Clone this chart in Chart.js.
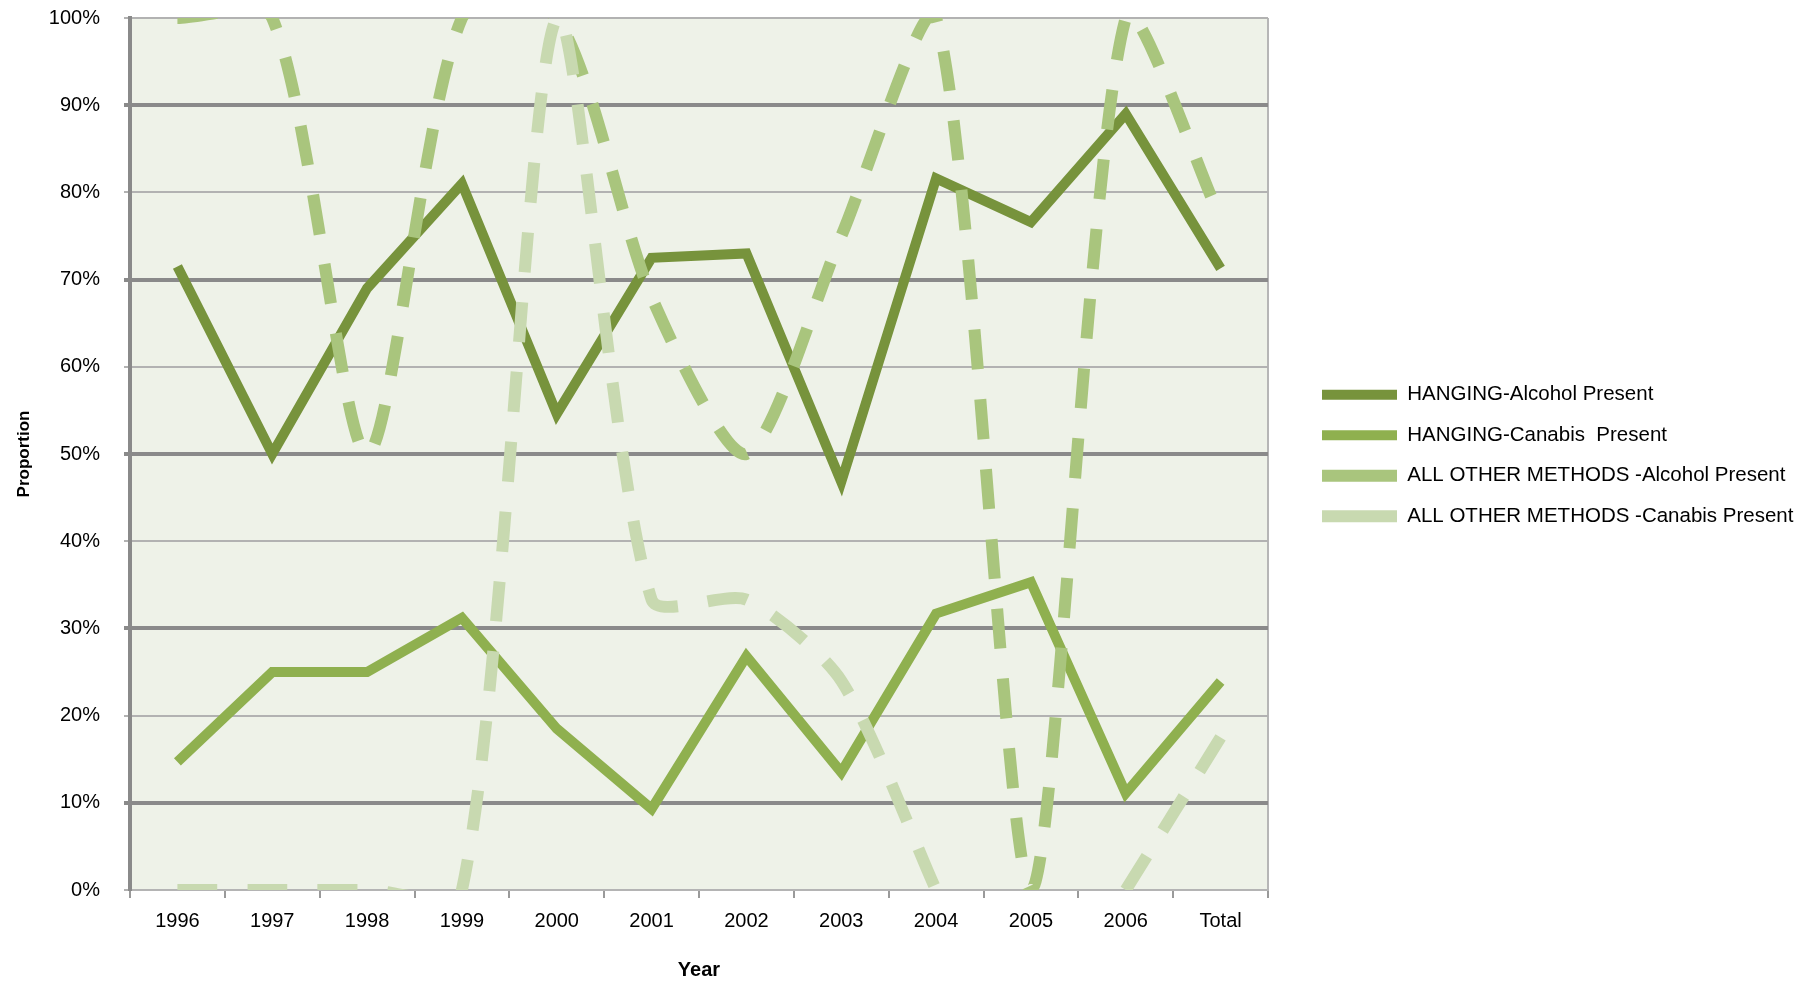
<!DOCTYPE html>
<html>
<head>
<meta charset="utf-8">
<title>Proportion by year</title>
<script src="https://cdn.jsdelivr.net/npm/chart.js@4.4.1/dist/chart.umd.min.js"></script>
<style>
  html, body { margin: 0; padding: 0; background: #ffffff; }
  #chart { display: block; }
</style>
</head>
<body>
<canvas id="chart" width="1800" height="983"></canvas>
<script>
const years = ["1996", "1997", "1998", "1999", "2000", "2001", "2002", "2003", "2004", "2005", "2006", "Total"];

const hangingAlcohol = [71.5, 50, 69, 81, 54.6, 72.5, 73, 46.8, 81.6, 76.6, 89, 71.3];
const hangingCanabis = [14.7, 25, 25, 31.2, 18.5, 9.3, 26.8, 13.5, 31.7, 35.3, 11.1, 23.9];
const othersAlcohol = [100, 100, 50, 100, 100, 68, 50, 75, 100, 0, 100, 77];
const othersCanabis = [0, 0, 0, 0, 100, 33.3, 33.3, 24, 0, null, 0, 17.5];

const FONT = "'Liberation Sans', Arial, sans-serif";

// plot area fill + thin right frame
const plotBackground = {
  id: "plotBackground",
  beforeDraw(chart) {
    const { ctx, chartArea: a } = chart;
    ctx.save();
    ctx.fillStyle = "#eef2e8";
    ctx.fillRect(a.left, a.top, a.right - a.left, a.bottom - a.top);
    ctx.strokeStyle = "#b6b6b6";
    ctx.lineWidth = 2;
    ctx.beginPath();
    ctx.moveTo(a.right, a.top);
    ctx.lineTo(a.right, a.bottom);
    ctx.stroke();
    ctx.restore();
  },
};

// legend on the right with a fixed width, nudged right and up
const legendPlacement = {
  id: "legendPlacement",
  beforeUpdate(chart) {
    const legend = chart.legend;
    if (!legend || legend._fixedFit) return;
    const fit = legend.fit;
    legend.fit = function () {
      fit.call(this);
      this.width = 532;
    };
    legend._fixedFit = true;
  },
  afterLayout(chart) {
    const legend = chart.legend;
    if (!legend) return;
    legend.left += 34;
    legend.top -= 45;
    legend.bottom -= 45;
  },
};

const buildDataset = (label, data, color, width, dashed, order) => ({
  label,
  data,
  borderColor: color,
  backgroundColor: color,
  borderWidth: width,
  borderDash: dashed ? [40, 30] : [],
  borderJoinStyle: "miter",
  borderCapStyle: "butt",
  tension: dashed ? 0.25 : 0,
  fill: false,
  pointRadius: 0,
  pointHoverRadius: 0,
  spanGaps: false,
  clip: 0,
  order,
});

new Chart(document.getElementById("chart"), {
  type: "line",
  data: {
    labels: years,
    datasets: [
      buildDataset("HANGING-Alcohol Present", hangingAlcohol, "#77933c", 10, false, 4),
      buildDataset("HANGING-Canabis  Present", hangingCanabis, "#8fb04f", 10, false, 3),
      buildDataset("ALL OTHER METHODS -Alcohol Present", othersAlcohol, "#a9c57d", 12, true, 2),
      buildDataset("ALL OTHER METHODS -Canabis Present", othersCanabis, "#c8d9b0", 12, true, 1),
    ],
  },
  options: {
    responsive: false,
    animation: false,
    layout: {
      padding: { left: 10, top: 18, right: 0, bottom: 0 },
    },
    elements: {
      line: { capBezierPoints: false },
    },
    plugins: {
      tooltip: { enabled: false },
      legend: {
        position: "right",
        align: "center",
        labels: {
          usePointStyle: true,
          pointStyle: "line",
          pointStyleWidth: 75,
          boxHeight: 10,
          padding: 20,
          color: "#000000",
          font: { family: FONT, size: 20.5 },
          sort: (a, b) => a.datasetIndex - b.datasetIndex,
        },
      },
    },
    scales: {
      x: {
        type: "category",
        offset: true,
        grid: {
          display: true,
          offset: true,
          drawOnChartArea: false,
          drawTicks: true,
          tickLength: 8,
          color: "#9a9a9a",
          lineWidth: 2,
        },
        border: { display: true, color: "#b4b4b4", width: 2 },
        ticks: {
          color: "#000000",
          font: { family: FONT, size: 20 },
          padding: 11,
          maxRotation: 0,
          autoSkip: false,
        },
        title: {
          display: true,
          text: "Year",
          color: "#000000",
          font: { family: FONT, size: 20, weight: "bold" },
          padding: { top: 0, bottom: 1 },
        },
        afterFit(scale) {
          scale.height = 93;
        },
      },
      y: {
        min: 0,
        max: 100,
        ticks: {
          stepSize: 10,
          callback: (value) => value + "%",
          color: "#000000",
          font: { family: FONT, size: 20 },
          padding: 24,
        },
        grid: {
          color: (ctx) => (ctx.tick && ctx.tick.value % 20 === 10 ? "#8a8a8a" : "#b2b2b2"),
          lineWidth: (ctx) => (ctx.tick && ctx.tick.value % 20 === 10 ? 4 : 2),
          tickLength: 6,
        },
        border: { display: true, color: "#8a8a8a", width: 4 },
        title: {
          display: true,
          text: "Proportion",
          color: "#000000",
          font: { family: FONT, size: 17, weight: "bold" },
          padding: { top: 4, bottom: 0 },
        },
        afterFit(scale) {
          scale.width = 120;
          scale.paddingTop = 12;
          scale.paddingBottom = 12;
        },
      },
    },
  },
  plugins: [plotBackground, legendPlacement],
});
</script>
</body>
</html>
